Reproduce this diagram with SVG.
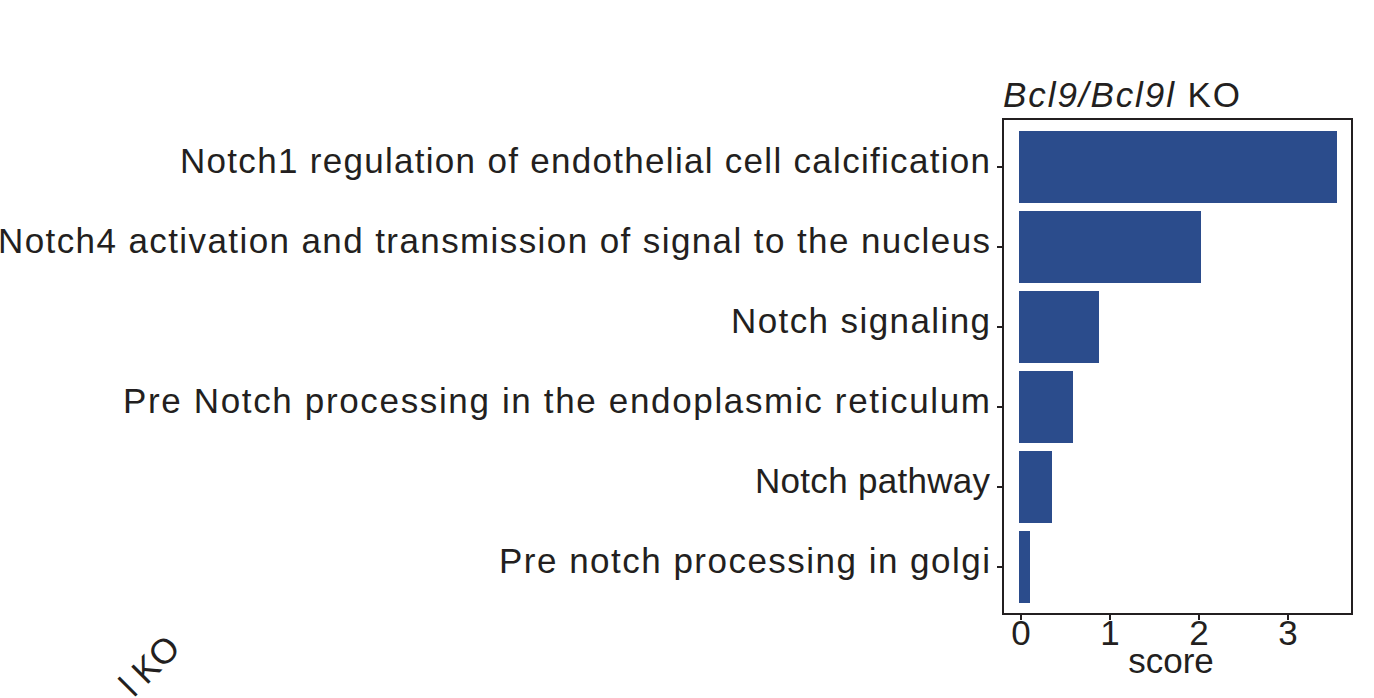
<svg xmlns="http://www.w3.org/2000/svg" width="1374" height="698" viewBox="0 0 1374 698">
<style>
text{font-family:"Liberation Sans",Arial,sans-serif;fill:#231f20}
.lab{font-size:35px;text-anchor:end}
.tk{font-size:35px;text-anchor:middle}
.bar{fill:#2b4c8c}
.tick{stroke:#231f20;stroke-width:2}
</style>
<rect width="1374" height="698" fill="#fff"/>
<text x="1003" y="107" font-size="35" textLength="237" lengthAdjust="spacing"><tspan font-style="italic">Bcl9/Bcl9l</tspan> KO</text>
<rect x="1003" y="119" width="349" height="495" fill="none" stroke="#231f20" stroke-width="2"/>
<g id="bars">
<rect id="b1" class="bar" x="1019" y="131" width="318" height="72"/>
<rect id="b2" class="bar" x="1019" y="211" width="182" height="72"/>
<rect id="b3" class="bar" x="1019" y="291" width="80" height="72"/>
<rect id="b4" class="bar" x="1019" y="371" width="54" height="72"/>
<rect id="b5" class="bar" x="1019" y="451" width="33" height="72"/>
<rect id="b6" class="bar" x="1019" y="531" width="11" height="72"/>
</g>
<g id="labels">
<text class="lab" x="990" y="173" textLength="810" lengthAdjust="spacing">Notch1 regulation of endothelial cell calcification</text>
<text class="lab" x="990" y="253" textLength="992" lengthAdjust="spacing">Notch4 activation and transmission of signal to the nucleus</text>
<text class="lab" x="990" y="333" textLength="259" lengthAdjust="spacing">Notch signaling</text>
<text class="lab" x="990" y="413" textLength="867" lengthAdjust="spacing">Pre Notch processing in the endoplasmic reticulum</text>
<text class="lab" x="990" y="493" textLength="235" lengthAdjust="spacing">Notch pathway</text>
<text class="lab" x="990" y="573" textLength="491" lengthAdjust="spacing">Pre notch processing in golgi</text>
</g>
<g id="ticks">
<line class="tick" x1="997" y1="167" x2="1003" y2="167"/>
<line class="tick" x1="997" y1="247" x2="1003" y2="247"/>
<line class="tick" x1="997" y1="327" x2="1003" y2="327"/>
<line class="tick" x1="997" y1="407" x2="1003" y2="407"/>
<line class="tick" x1="997" y1="487" x2="1003" y2="487"/>
<line class="tick" x1="997" y1="567" x2="1003" y2="567"/>
<line class="tick" x1="1021" y1="614" x2="1021" y2="620"/>
<line class="tick" x1="1110" y1="614" x2="1110" y2="620"/>
<line class="tick" x1="1199" y1="614" x2="1199" y2="620"/>
<line class="tick" x1="1288" y1="614" x2="1288" y2="620"/>
</g>
<text class="tk" x="1021" y="645">0</text>
<text class="tk" x="1110" y="645">1</text>
<text class="tk" x="1199" y="645">2</text>
<text class="tk" x="1288" y="645">3</text>
<text class="tk" x="1171" y="673">score</text>
<text font-size="35" text-anchor="end" transform="translate(182,650) rotate(-45)">l KO</text>
</svg>
